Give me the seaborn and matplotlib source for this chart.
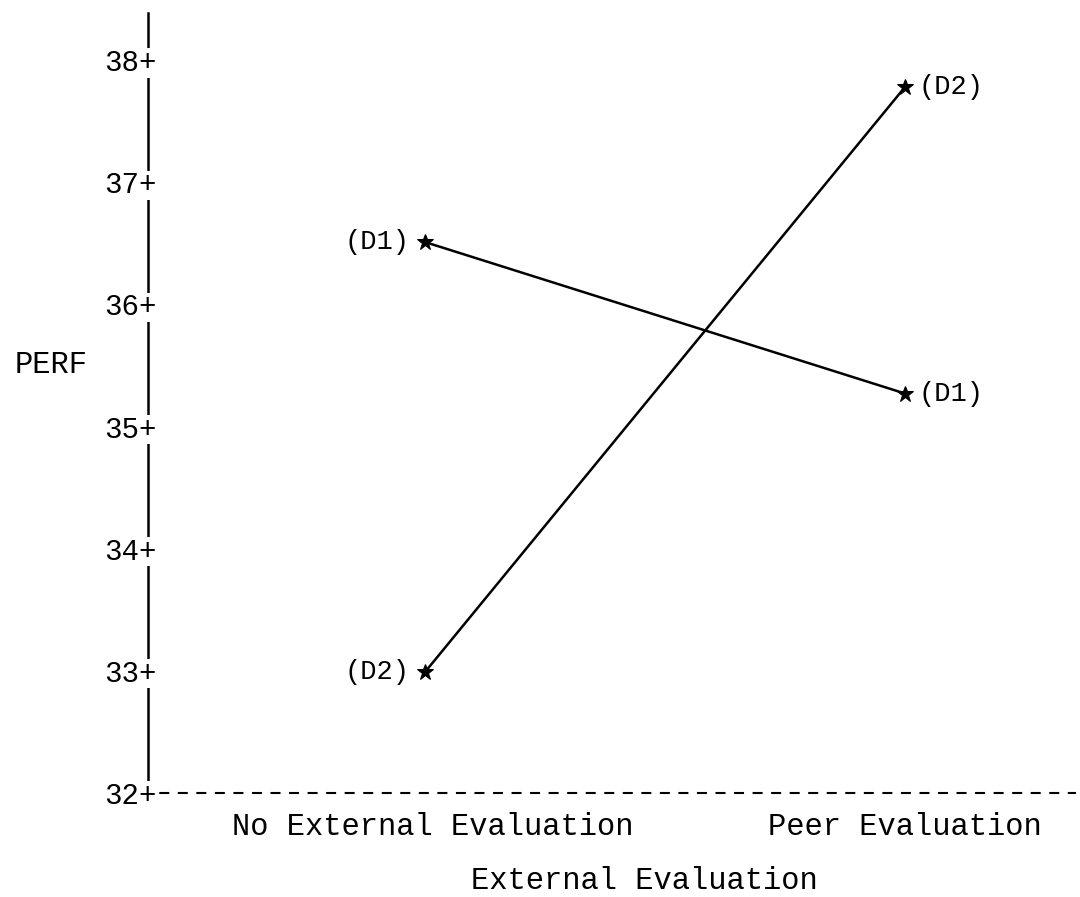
import numpy as np
import pandas as pd
import matplotlib
matplotlib.use("Agg")
import matplotlib.pyplot as plt
import matplotlib.transforms as mtransforms
import seaborn as sns

# Data
categories = ["No External Evaluation", "Peer Evaluation"]
d1_values = [36.51, 35.27]
d2_values = [32.99, 37.78]
series_names = ["(D1)", "(D2)"]
y_ticks = [32, 33, 34, 35, 36, 37, 38]
y_tick_labels = ["32+", "33+", "34+", "35+", "36+", "37+", "38+"]

sns.set_theme(style="white")
plt.rcParams['font.family'] = ['Liberation Mono', 'DejaVu Sans']
plt.rcParams['text.color'] = 'black'
plt.rcParams['axes.labelcolor'] = 'black'

df = pd.DataFrame({
    "pos": [0, 1, 0, 1],
    "PERF": d1_values + d2_values,
    "series": [series_names[0]] * 2 + [series_names[1]] * 2,
})

fig = plt.figure(figsize=(10.8, 8.97), dpi=100)
ax = fig.add_axes([148/1080, 1 - 793/897, (1075-148)/1080, (793-13)/897])

sns.lineplot(data=df, x="pos", y="PERF", units="series", estimator=None,
             color="black", linewidth=1.8, marker="*", markersize=12,
             markeredgecolor="black", ax=ax, legend=False)

ax.set_xlim(-0.577, 1.354)
ax.set_ylim(32, 38.385)

fs = 21
for vals, name in [(d1_values, series_names[0]), (d2_values, series_names[1])]:
    ax.annotate(name, (0, vals[0]), xytext=(-15, 0), textcoords="offset pixels",
                ha="right", va="center", fontsize=19.5, color="black")
    ax.annotate(name, (1, vals[1]), xytext=(13, 0), textcoords="offset pixels",
                ha="left", va="center", fontsize=19.5, color="black")

for s in ["top", "right"]:
    ax.spines[s].set_visible(False)
ax.spines["left"].set_linewidth(1.8)
ax.spines["left"].set_color("black")
ax.spines["bottom"].set_color("black")
ax.spines["bottom"].set_linewidth(1.5)
ax.spines["bottom"].set_linestyle((3, (3.8, 5.1)))

ax.set_yticks(y_ticks)
ax.set_yticklabels(y_tick_labels, fontsize=fs, color="black")
ax.tick_params(axis="y", length=0, pad=-6.5, colors="black")
ax.set_axisbelow(False)
for lab in ax.get_yticklabels():
    lab.set_bbox(dict(facecolor="white", edgecolor="none", pad=0.5))

ax.set_xticks([0, 1])
ax.set_xticklabels(categories, fontsize=22, color="black")
ax.tick_params(axis="x", direction="inout", length=11, width=1.6, pad=8, colors="black")
xl0 = ax.get_xticklabels()[0]
xl0.set_transform(xl0.get_transform() + mtransforms.ScaledTranslation(8/100, 0, fig.dpi_scale_trans))

ax.set_xlabel("External Evaluation", fontsize=22, color="black", va="center")
ax.xaxis.set_label_coords((644-148)/927, -(881-793)/780)
ax.set_ylabel("PERF", fontsize=22, color="black", rotation=0, va="center", ha="center")
ax.yaxis.set_label_coords(-0.1046, (793-365)/780)

fig.savefig("out.png", dpi=100, facecolor="white")
